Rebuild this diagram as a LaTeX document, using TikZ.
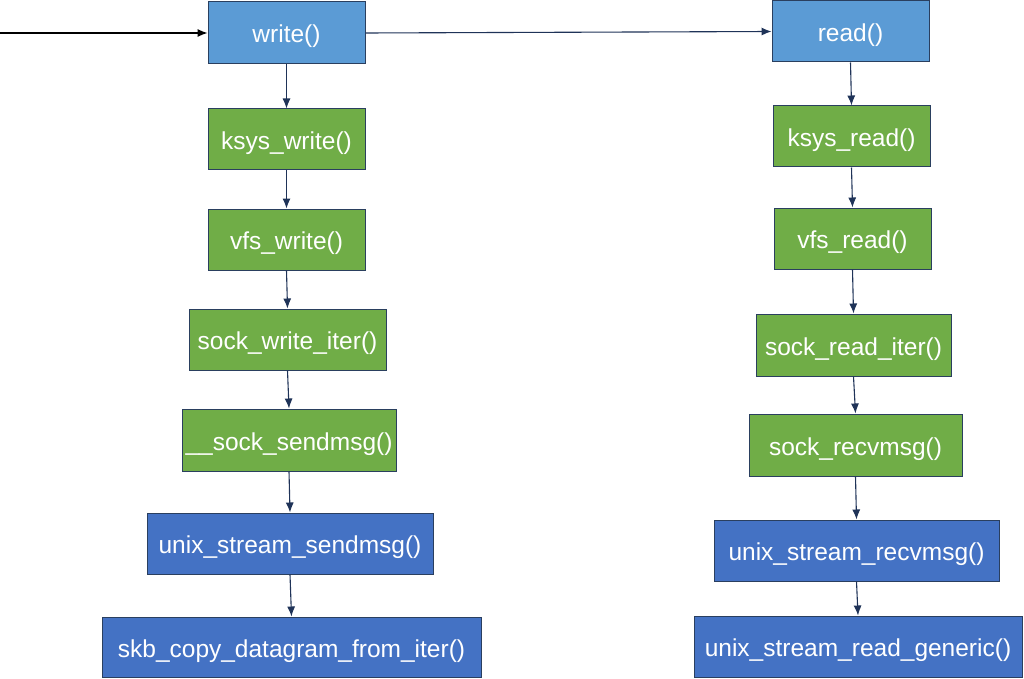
\documentclass[tikz,border=0pt]{standalone}
\usepackage{fontspec}
\setmainfont{Liberation Sans}
\usetikzlibrary{arrows.meta}
\definecolor{lblue}{HTML}{5B9BD5}
\definecolor{dblue}{HTML}{4472C4}
\definecolor{fgreen}{HTML}{70AD47}
\definecolor{edge}{HTML}{2A3F5F}
\definecolor{arr}{HTML}{1F3358}
\begin{document}
\begin{tikzpicture}[x=1pt,y=-1pt,
  fbox/.style={draw=edge, line width=1pt, text=white, inner sep=0pt, text height=22pt, text depth=2pt, font=\fontsize{24.5}{28}\selectfont},
  lb/.style={fbox, fill=lblue},
  gb/.style={fbox, fill=fgreen},
  db/.style={fbox, fill=dblue},
  conn/.style={draw=arr, line width=1.1pt, -{Latex[length=10pt,width=8pt]}}
]
\useasboundingbox (0,0) rectangle (1024,679);
% left column
\node[lb, minimum width=157pt, minimum height=62pt] (w1) at (286.5,33) {write()};
\node[gb, minimum width=157pt, minimum height=61pt] (w2) at (286.5,139.5) {ksys\_write()};
\node[gb, minimum width=157pt, minimum height=61pt] (w3) at (286.5,239.5) {vfs\_write()};
\node[gb, minimum width=197pt, minimum height=61pt] (w4) at (287.5,339.5) {sock\_write\_iter()};
\node[gb, minimum width=214pt, minimum height=62pt] (w5) at (289,440) {\_\_sock\_sendmsg()};
\node[db, minimum width=286pt, minimum height=61pt] (w6) at (290,543.5) {unix\_stream\_sendmsg()};
\node[db, minimum width=379pt, minimum height=60pt] (w7) at (291.5,647) {skb\_copy\_datagram\_from\_iter()};
% right column
\node[lb, minimum width=157pt, minimum height=61pt] (r1) at (850.5,31.5) {read()};
\node[gb, minimum width=157pt, minimum height=61pt] (r2) at (851.5,136.5) {ksys\_read()};
\node[gb, minimum width=157pt, minimum height=61pt] (r3) at (852.5,238.5) {vfs\_read()};
\node[gb, minimum width=195pt, minimum height=62pt] (r4) at (853.5,345) {sock\_read\_iter()};
\node[gb, minimum width=213pt, minimum height=62pt] (r5) at (855.5,445) {sock\_recvmsg()};
\node[db, minimum width=285pt, minimum height=61pt] (r6) at (856.5,550.5) {unix\_stream\_recvmsg()};
\node[db, minimum width=328pt, minimum height=61pt] (r7) at (858,646.5) {unix\_stream\_read\_generic()};
% connectors
\coordinate (start) at (0,33);
\draw[conn, draw=black] (start) -- (w1.west);
\draw[conn] (w1.east) -- (r1.west);
\draw[conn] (w1.south) -- (w2.north);
\draw[conn] (w2.south) -- (w3.north);
\draw[conn] (w3.south) -- (w4.north);
\draw[conn] (w4.south) -- (w5.north);
\draw[conn] (w5.south) -- (w6.north);
\draw[conn] (w6.south) -- (w7.north);
\draw[conn] (r1.south) -- (r2.north);
\draw[conn] (r2.south) -- (r3.north);
\draw[conn] (r3.south) -- (r4.north);
\draw[conn] (r4.south) -- (r5.north);
\draw[conn] (r5.south) -- (r6.north);
\draw[conn] (r6.south) -- (r7.north);
\end{tikzpicture}
\end{document}
